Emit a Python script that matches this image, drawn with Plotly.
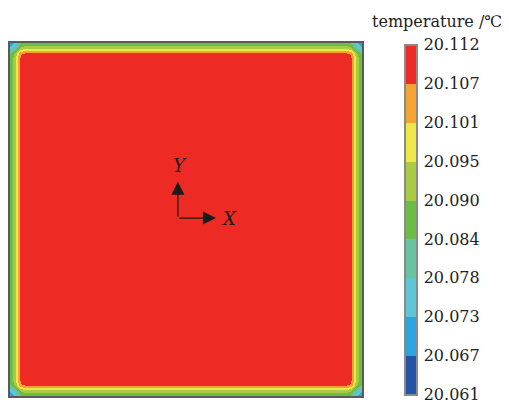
import numpy as np
import plotly.graph_objects as go

# ---- data ----
cbar_ticks = ["20.061", "20.067", "20.073", "20.078", "20.084",
              "20.090", "20.095", "20.101", "20.107", "20.112"]
band_colors = ["#2454a3", "#2aa6de", "#5ec6d5", "#69c3a2", "#6bbd45",
               "#a9cb42", "#ede74a", "#f5a331", "#ee2a24"]
t_min, t_max = 20.061, 20.112
t_core = 20.1125                     # plate core temperature
# temperature drop below the core across the wall boundary layer
# (distance from the wall as a fraction of plate width)
wall_dist = [0.0, 0.0099, 0.0170, 0.0227, 0.0284, 0.0341, 0.0426, 0.0625, 0.5]
wall_drop = [0.0265, 0.0220, 0.0170, 0.0112, 0.0055, 0.0028, 0.0012, 0.0, 0.0]
corner_overlap = 12.8                # reduction of the summed drop in the corners
n = 352

# ---- build field ----
c = (np.arange(n) + 0.5) / n
dist = np.minimum(c, 1 - c)
drop = np.interp(dist, wall_dist, wall_drop)
DX, DY = drop[None, :], drop[:, None]
T = np.round(t_core - (DX + DY - corner_overlap * DX * DY), 5)

k = len(band_colors)
cscale = []
for i, col in enumerate(band_colors):
    cscale.append([i / k, col])
    cscale.append([(i + 1) / k, col])

tickvals = np.linspace(t_min + 1e-7, t_max - 1e-7, len(cbar_ticks))

fig = go.Figure(go.Heatmap(
    x=c, y=c, z=T, zmin=t_min, zmax=t_max, colorscale=cscale, zsmooth=False,
    hoverinfo="skip",
    colorbar=dict(
        x=(405 - 10) / 352, xanchor="left", y=0.5, yanchor="middle",
        len=0.992, thickness=12, outlinewidth=2, outlinecolor="#8a8a8a",
        tickvals=tickvals, ticktext=cbar_ticks,
        ticks="outside", ticklen=3, tickcolor="rgba(0,0,0,0)",
        ticklabeloverflow="allow",
        tickfont=dict(family="DejaVu Serif", size=16, color="#222"),
        xpad=0, ypad=0,
    ),
))

ax_common = dict(range=[0, 1], showticklabels=False, showgrid=False, zeroline=False,
                 showline=True, mirror=True, linecolor="#5a5a5a", linewidth=1.5, ticks="")
# page body adds an 8px margin, so the figure is 8px smaller and margins shifted
fig.update_layout(
    width=501, height=396,
    margin=dict(l=2, r=147, t=35, b=8, autoexpand=False),
    paper_bgcolor="white", plot_bgcolor="white",
    xaxis=ax_common, yaxis=ax_common,
    annotations=[
        dict(x=0.585, y=0.504, ax=0.477, ay=0.504, axref="x", ayref="y", xref="x", yref="y",
             showarrow=True, arrowhead=2, arrowsize=2.0, arrowwidth=1.3, arrowcolor="#1a1a1a", text=""),
        dict(x=0.477, y=0.607, ax=0.477, ay=0.504, axref="x", ayref="y", xref="x", yref="y",
             showarrow=True, arrowhead=2, arrowsize=2.0, arrowwidth=1.3, arrowcolor="#1a1a1a", text=""),
        dict(x=0.622, y=0.504, xref="x", yref="y", text="<i>X</i>", showarrow=False,
             font=dict(family="DejaVu Serif", size=18, color="#1a1a1a")),
        dict(x=0.483, y=0.654, xref="x", yref="y", text="<i>Y</i>", showarrow=False,
             font=dict(family="DejaVu Serif", size=18, color="#1a1a1a")),
        dict(x=(437 - 10) / 352, y=(396 - 22) / 353, xref="paper", yref="paper",
             xanchor="center", yanchor="middle",
             text="temperature /℃", showarrow=False,
             font=dict(family="DejaVu Serif", size=16, color="#222")),
    ],
)

fig.write_html("out.html")
